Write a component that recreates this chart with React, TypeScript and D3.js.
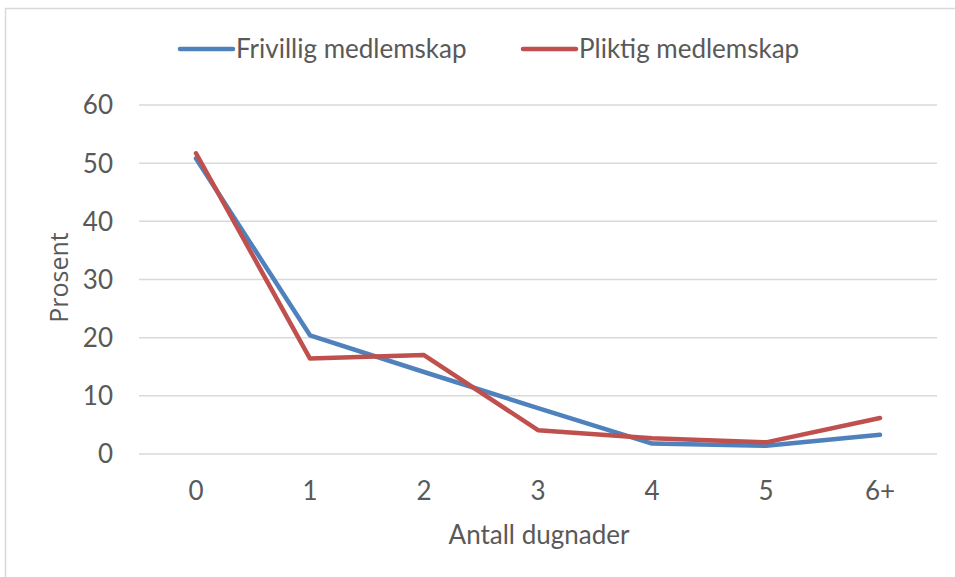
import React from "react";
import * as d3 from "d3";

const categories = ["0", "1", "2", "3", "4", "5", "6+"];
const frivillig = [50.8, 20.4, 14.1, 7.9, 1.8, 1.4, 3.3];
const pliktig = [51.7, 16.4, 17.0, 4.1, 2.7, 2.0, 6.2];
const seriesNames = ["Frivillig medlemskap", "Pliktig medlemskap"];
const seriesColors = ["#4f81bd", "#c0504d"];
const yTicks = [0, 10, 20, 30, 40, 50, 60];

const W = 955;
const H = 577;
const FONT = "Lato, 'Open Sans', sans-serif";
const TEXT = "#595959";

export default function App() {
  const x = d3.scaleBand<string>().domain(categories).range([139, 937]);
  const y = d3.scaleLinear().domain([0, 60]).range([454, 105]);
  const line = d3
    .line<number>()
    .x((_, i) => (x(categories[i]) as number) + x.bandwidth() / 2)
    .y((d) => y(d));
  const series = [frivillig, pliktig];
  const legendX = [180, 523];

  return (
    <svg
      width={W}
      height={H}
      style={{ position: "absolute", left: 0, top: 0, background: "#fff" }}
    >
      <rect x={5.5} y={8.5} width={960} height={580} fill="#fff" stroke="#d9d9d9" strokeWidth={1.5} />
      {yTicks.map((t) => (
        <g key={t}>
          <line x1={139} x2={937} y1={y(t)} y2={y(t)} stroke="#d9d9d9" strokeWidth={1.5} />
          <text
            x={113}
            y={y(t)}
            dy="0.36em"
            textAnchor="end"
            fontFamily={FONT}
            fontSize={26}
            fill={TEXT}
          >
            {t}
          </text>
        </g>
      ))}
      {categories.map((c) => (
        <text
          key={c}
          x={(x(c) as number) + x.bandwidth() / 2}
          y={500}
          textAnchor="middle"
          fontFamily={FONT}
          fontSize={26}
          fill={TEXT}
        >
          {c}
        </text>
      ))}
      {series.map((s, i) => (
        <path
          key={i}
          d={line(s) as string}
          fill="none"
          stroke={seriesColors[i]}
          strokeWidth={4.5}
          strokeLinejoin="round"
          strokeLinecap="round"
        />
      ))}
      {seriesNames.map((n, i) => (
        <g key={n}>
          <line
            x1={legendX[i]}
            x2={legendX[i] + 53}
            y1={49}
            y2={49}
            stroke={seriesColors[i]}
            strokeWidth={4.5}
            strokeLinecap="round"
          />
          <text
            x={legendX[i] + 56}
            y={58}
            fontFamily={FONT}
            fontSize={26}
            fill={TEXT}
          >
            {n}
          </text>
        </g>
      ))}
      <text
        transform="translate(68,277.5) rotate(-90)"
        textAnchor="middle"
        fontFamily="'Open Sans', sans-serif"
        fontSize={25}
        fill={TEXT}
      >
        Prosent
      </text>
      <text
        x={539}
        y={544}
        textAnchor="middle"
        fontFamily={FONT}
        fontSize={26}
        fill={TEXT}
      >
        Antall dugnader
      </text>
    </svg>
  );
}
